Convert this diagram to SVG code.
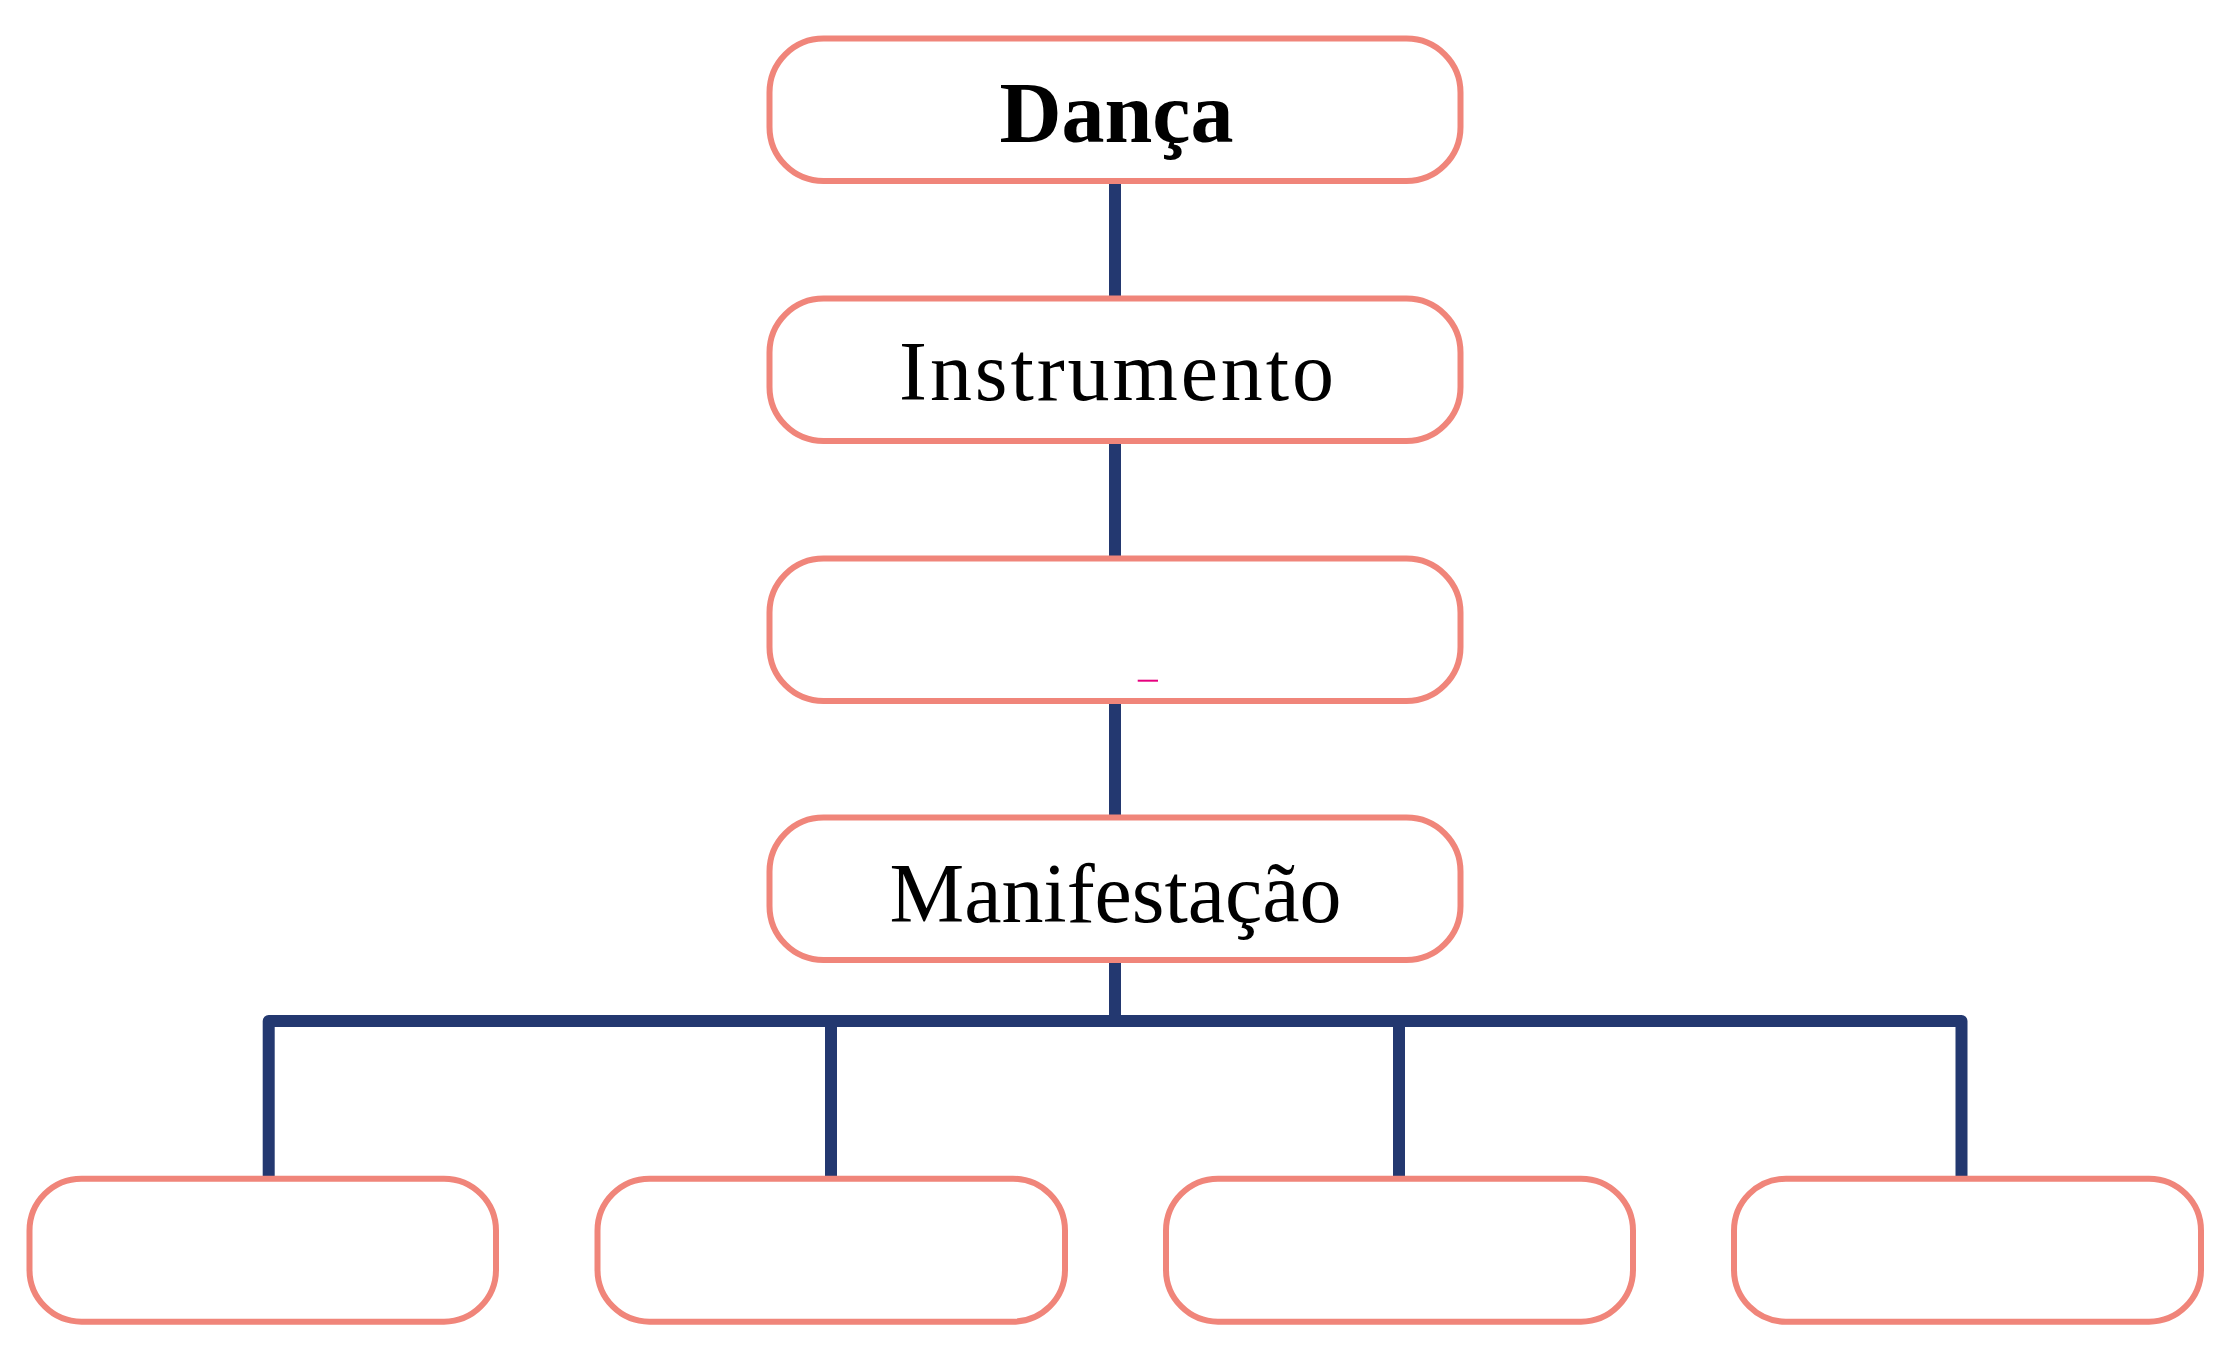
<svg xmlns="http://www.w3.org/2000/svg" width="2228" height="1347" viewBox="0 0 2228 1347">
  <style>
    .box { fill: #ffffff; stroke: #F0857A; stroke-width: 6; }
    .conn { fill: none; stroke: #233870; stroke-width: 12; stroke-linejoin: round; }
    .lbl { font-family: "Liberation Serif", "Times New Roman", serif; font-size: 84px; fill: #000000; text-anchor: middle; }
    .bold { font-weight: bold; font-size: 86px; }
  </style>
  <rect width="2228" height="1347" fill="#ffffff"/>
  <g id="connectors">
    <path class="conn" d="M1115,181 V298.5"/>
    <path class="conn" d="M1115,441 V558.5"/>
    <path class="conn" d="M1115,701 V817.5"/>
    <path class="conn" d="M1115,960 V1021"/>
    <path class="conn" d="M268.7,1178.7 V1021 H1961.5 V1178.7"/>
    <path class="conn" d="M831,1021 V1178.7"/>
    <path class="conn" d="M1399,1021 V1178.7"/>
  </g>
  <g id="node-danca">
    <rect class="box" x="769.5" y="38.5" width="691" height="142.5" rx="54" ry="54"/>
    <text class="lbl bold" x="1116.5" y="141.7">Dança</text>
  </g>
  <g id="node-instrumento">
    <rect class="box" x="769.5" y="298.5" width="691" height="142.5" rx="54" ry="54"/>
    <text class="lbl" x="1116.5" y="400" font-size="87" textLength="435">Instrumento</text>
  </g>
  <g id="node-empty">
    <rect class="box" x="769.5" y="558.5" width="691" height="142.5" rx="54" ry="54"/>
    <line x1="1137.7" y1="680.7" x2="1158" y2="680.7" stroke="#E6007E" stroke-width="2"/>
  </g>
  <g id="node-manifestacao">
    <rect class="box" x="769.5" y="817.5" width="691" height="142.5" rx="54" ry="54"/>
    <text class="lbl" x="1115.5" y="921.7" textLength="452">Manifestação</text>
  </g>
  <g id="node-b1">
    <rect class="box" x="29.5" y="1178.7" width="466.5" height="143" rx="52" ry="52"/>
  </g>
  <g id="node-b2">
    <rect class="box" x="597.5" y="1178.7" width="467.5" height="143" rx="52" ry="52"/>
  </g>
  <g id="node-b3">
    <rect class="box" x="1166" y="1178.7" width="467" height="143" rx="52" ry="52"/>
  </g>
  <g id="node-b4">
    <rect class="box" x="1734" y="1178.7" width="467" height="143" rx="52" ry="52"/>
  </g>
</svg>
